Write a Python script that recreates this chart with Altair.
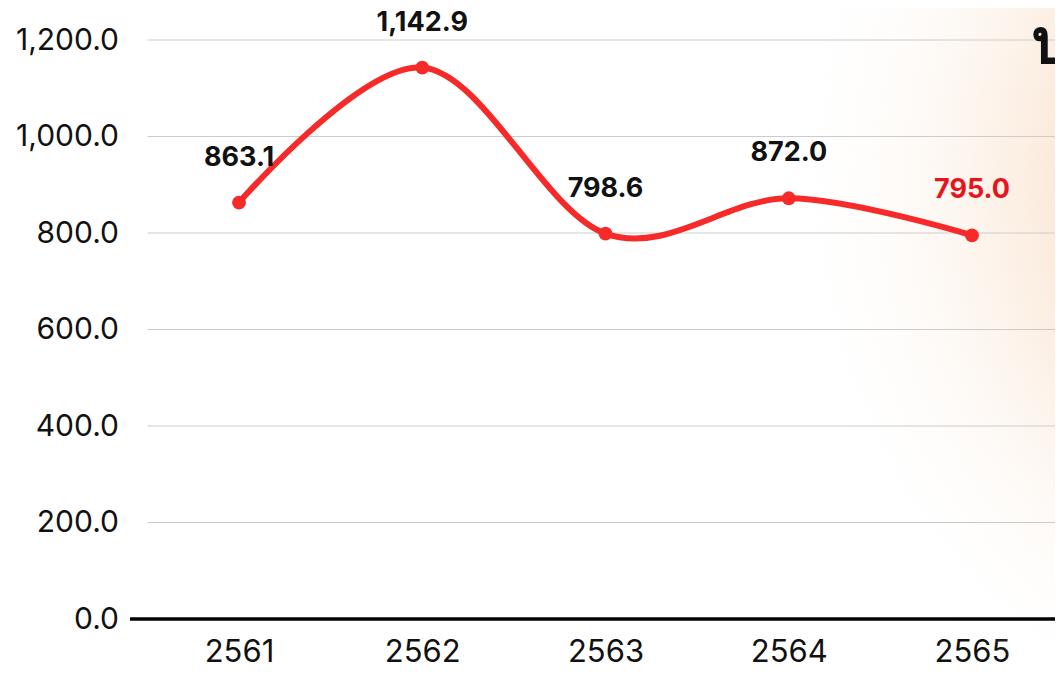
import altair as alt
import pandas as pd

years = ["2561", "2562", "2563", "2564", "2565"]
values = [863.1, 1142.9, 798.6, 872.0, 795.0]
y_ticks = [0, 200, 400, 600, 800, 1000, 1200]

df = pd.DataFrame({"year": years, "value": values})
grid_df = pd.DataFrame({"v": y_ticks})

W = 907.5
H = 579
FONT = "Inter"

y_scale = alt.Scale(domain=[0, 1200], nice=False)
x_scale = alt.Scale(type="point", range=[91.5, 824.5], padding=0)

x_enc = alt.X("year:N", sort=years, title=None, scale=x_scale,
              axis=alt.Axis(labelAngle=0, labelFontSize=31, labelColor="#111111",
                            labelFont=FONT, labelPadding=18, ticks=False, domain=False,
                            grid=False))
y_enc = alt.Y("value:Q", title=None, scale=y_scale,
              axis=alt.Axis(values=y_ticks, format=",.1f", labelFontSize=30,
                            labelColor="#111111", labelFont=FONT, labelPadding=29,
                            ticks=False, domain=False, grid=False))

glow = alt.Chart(pd.DataFrame({"k": [0]})).mark_rect(
    fill=alt.Gradient(gradient="radial",
                      stops=[alt.GradientStop(color="#f8dcc3", offset=0),
                             alt.GradientStop(color="#fbeadb", offset=0.55),
                             alt.GradientStop(color="rgba(255,255,255,0)", offset=1)],
                      x1=0.75, y1=0.5, r1=0, x2=0.75, y2=0.5, r2=0.52),
    opacity=1
).encode(x=alt.value(652.5), x2=alt.value(1252.5), y=alt.value(-460), y2=alt.value(740))

base = alt.Chart(df)

axes = base.mark_line(opacity=0).encode(x=x_enc, y=y_enc)

grid = alt.Chart(grid_df).mark_rule(color="#cccccc", strokeWidth=1).encode(
    x=alt.value(0), x2=alt.value(W), y=alt.Y("v:Q", scale=y_scale))

baseline = alt.Chart(pd.DataFrame({"v": [0]})).mark_rule(
    color="#000000", strokeWidth=3.5
).encode(x=alt.value(-17.5), x2=alt.value(W), y=alt.Y("v:Q", scale=y_scale))

line = base.mark_line(color="#f72a2a", strokeWidth=6, interpolate="cardinal").encode(
    x=alt.X("year:N", sort=years, scale=x_scale), y=alt.Y("value:Q", scale=y_scale))

points = base.mark_circle(color="#f72a2a", size=190, opacity=1).encode(
    x=alt.X("year:N", sort=years, scale=x_scale), y=alt.Y("value:Q", scale=y_scale))

labels = base.mark_text(fontSize=27, fontWeight="bold", font=FONT, dy=-45,
                        baseline="middle").encode(
    x=alt.X("year:N", sort=years, scale=x_scale), y=alt.Y("value:Q", scale=y_scale),
    text=alt.Text("value:Q", format=",.1f"),
    color=alt.condition(alt.datum.year == "2565", alt.value("#e8141b"), alt.value("#111111")))

title_frag = alt.Chart(pd.DataFrame({"t": ["บ"]})).mark_text(
    fontSize=62, fontWeight="bold", align="left", baseline="alphabetic", color="#111111",
    font="Noto Sans"
).encode(text="t:N", x=alt.value(884), y=alt.value(23))

chart = alt.layer(glow, axes, grid, baseline, line, points, labels, title_frag).properties(
    width=W, height=H,
    autosize=alt.AutoSizeParams(type="none"),
    padding={"left": 139.5, "top": 32, "right": 0, "bottom": 48},
    background="#ffffff"
).configure_view(stroke=None)

chart.save("out.html", embed_options={"renderer": "svg", "actions": False})
